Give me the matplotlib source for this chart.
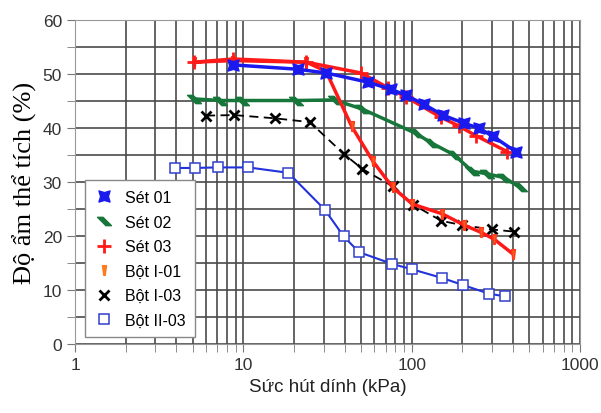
import numpy as np
import matplotlib
matplotlib.use('Agg')
import matplotlib.pyplot as plt
from matplotlib.path import Path
from matplotlib.ticker import LogLocator, MultipleLocator, FixedLocator

# Số liệu.
set01_x = [8.7, 21, 31, 55, 75, 92, 118, 153, 204, 250, 303, 416]
set01_y = [51.7, 50.9, 50.2, 48.5, 47.2, 46.1, 44.4, 42.4, 40.9, 40.0, 38.5, 35.6]

set02_x = [5.1, 7.3, 9.8, 20.4, 34.8, 51, 106, 130, 179, 229, 282, 355, 440]
set02_y = [45.4, 45.1, 45.1, 45.1, 45.2, 43.5, 39.0, 37.3, 35.0, 32.0, 31.5, 30.8, 29.0]

set03_x = [5.1, 8.7, 23.7, 50, 72, 92, 149, 190, 240, 371]
set03_y = [52.2, 52.8, 52.2, 50.2, 47.5, 45.8, 42.0, 40.4, 38.6, 35.6]

botI01_x = [5.1, 8.7, 23.7, 31, 44, 59, 77, 101, 152, 205, 257, 309, 398]
botI01_y = [52.2, 52.5, 52.2, 50.5, 40.3, 33.8, 29.0, 25.9, 24.1, 22.0, 20.7, 19.4, 16.7]

botI03_x = [6.0, 8.8, 15.4, 24.8, 39.5, 51, 77, 102, 150, 200, 300, 406]
botI03_y = [42.3, 42.4, 41.8, 41.1, 35.2, 32.4, 29.2, 25.8, 22.8, 22.0, 21.2, 20.8]

botII03_x = [3.94, 5.13, 7.03, 10.7, 18.5, 30.4, 39.5, 48.6, 76.8, 101, 152, 202, 288, 358]
botII03_y = [32.6, 32.6, 32.7, 32.7, 31.7, 24.9, 19.9, 17.0, 14.8, 13.8, 12.2, 10.9, 9.3, 8.8]

labels = ['Sét 01', 'Sét 02', 'Sét 03', 'Bột I-01', 'Bột I-03', 'Bột II-03']

# Ký hiệu tự vẽ.
m_set01 = Path([(-1, -1), (0, -0.7), (1, -1), (0.7, 0), (1, 1), (0, 0.7),
                (-1, 1), (-0.7, 0), (-1, -1)], closed=True)
m_set02 = Path([(-1, 0.6), (-0.2, 0.6), (1, -0.6), (0.2, -0.6), (-1, 0.6)], closed=True)
m_bot01 = Path([(-0.4, 1), (0.4, 1), (0.15, -1), (-0.15, -1), (-0.4, 1)], closed=True)

plt.rcParams['font.family'] = ['Liberation Sans', 'DejaVu Sans']

fig = plt.figure(figsize=(6.01, 4.14), dpi=100)
ax = fig.add_axes([0.125, 0.167, 0.84, 0.782])

ax.plot(botII03_x, botII03_y, color='#2233dd', lw=1.5, marker='s', ms=7,
        mfc='white', mec='#3340cc', mew=1.1, label=labels[5], zorder=3)
ax.plot(botI03_x, botI03_y, color='black', lw=1.3, ls=(0, (5, 3)), marker='x',
        ms=7, mew=2, label=labels[4], zorder=3)
ax.plot(set02_x, set02_y, color='#17763a', lw=2.5, marker=m_set02, ms=10,
        label=labels[1], zorder=4)
ax.plot(botI01_x, botI01_y, color='#ff1a1a', lw=2.5, marker=m_bot01, ms=7,
        mfc='#ff5a1a', mec='#ff3a1a', label=labels[3], zorder=4)
ax.plot(set03_x, set03_y, color='#ff1a1a', lw=2.5, marker='+', ms=10, mew=2,
        label=labels[2], zorder=5)
ax.plot(set01_x, set01_y, color='#1a1aee', lw=2.5, marker=m_set01, ms=8,
        label=labels[0], zorder=6)

ax.set_xscale('log')
ax.set_xlim(1, 1000)
ax.set_ylim(0, 60)
ax.yaxis.set_major_locator(MultipleLocator(10))
ax.yaxis.set_minor_locator(MultipleLocator(5))
ax.xaxis.set_major_locator(FixedLocator([1, 10, 100, 1000]))
ax.xaxis.set_minor_locator(LogLocator(base=10, subs=np.arange(2, 10)))
ax.set_xticklabels(['1', '10', '100', '1000'])
ax.xaxis.set_minor_formatter(plt.NullFormatter())

ax.grid(True, which='both', color='#4a4a4a', lw=1.2)
ax.set_axisbelow(True)
ax.tick_params(which='both', direction='out', length=6, color='#777777',
               labelsize=12.5, labelcolor='#333333')
for s in ax.spines.values():
    s.set_color('#999999')

ax.set_xlabel('Sức hút dính (kPa)', fontsize=13.5, color='#222222', labelpad=4)
ax.set_ylabel('Độ ẩm thể tích (%)', fontsize=19, family=['Liberation Serif', 'DejaVu Serif'],
              labelpad=4)

handles, labs = ax.get_legend_handles_labels()
order = [labs.index(l) for l in labels]
leg = ax.legend([handles[i] for i in order], [labs[i] for i in order],
                loc='lower left', bbox_to_anchor=(0.003, -0.005), fontsize=11.5,
                handlelength=1.2, handletextpad=0.7, labelspacing=0.6,
                fancybox=False, framealpha=1, edgecolor='#888888',
                borderpad=0.6)
for h in leg.get_lines():
    h.set_linestyle('none')
leg.get_lines()[3].set_markerfacecolor('#ff7a1a')
leg.get_lines()[3].set_markeredgecolor('#ff7a1a')

fig.savefig('out.png', dpi=100)
